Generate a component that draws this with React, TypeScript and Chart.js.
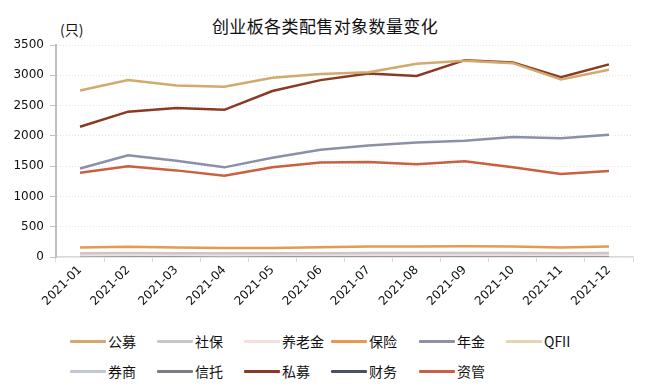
import React, { useEffect, useRef } from "react";
import { Chart, registerables } from "chart.js";

Chart.register(...registerables);

const categories = ["2021-01", "2021-02", "2021-03", "2021-04", "2021-05", "2021-06", "2021-07", "2021-08", "2021-09", "2021-10", "2021-11", "2021-12"];
const yTicks = [0, 500, 1000, 1500, 2000, 2500, 3000, 3500];

const gongmu = [2750, 2920, 2830, 2810, 2960, 3020, 3050, 3190, 3240, 3200, 2930, 3090];
const shebao = [62, 64, 62, 60, 61, 63, 64, 65, 66, 65, 63, 64];
const yanglaojin = [30, 32, 31, 30, 31, 32, 33, 33, 34, 33, 32, 33];
const baoxian = [155, 168, 158, 148, 148, 162, 172, 172, 178, 172, 158, 172];
const nianjin = [1460, 1680, 1590, 1480, 1640, 1770, 1840, 1890, 1920, 1980, 1960, 2020];
const qfii = [42, 44, 43, 42, 43, 45, 46, 46, 47, 46, 45, 46];
const quanshang = [55, 57, 56, 54, 55, 57, 58, 58, 59, 58, 57, 58];
const xintuo = [20, 21, 20, 19, 20, 21, 22, 22, 22, 21, 21, 22];
const simu = [2150, 2400, 2460, 2430, 2740, 2920, 3030, 2990, 3250, 3210, 2970, 3180];
const caiwu = [10, 10, 10, 10, 10, 10, 10, 10, 10, 10, 10, 10];
const ziguan = [1390, 1500, 1430, 1340, 1480, 1560, 1570, 1530, 1580, 1480, 1370, 1420];

const seriesNames = ["公募", "社保", "养老金", "保险", "年金", "QFII", "券商", "信托", "私募", "财务", "资管"];
const seriesData = [gongmu, shebao, yanglaojin, baoxian, nianjin, qfii, quanshang, xintuo, simu, caiwu, ziguan];
const seriesColors = ["#D2A96E", "#C6C8CC", "#F6DEDD", "#E8994E", "#8B90A8", "#E6D3B0", "#C3C7D3", "#7B7D83", "#8A3A23", "#4B5067", "#C9603F"];

const NUMFONT = "'DejaVu Sans', Verdana, sans-serif";
const CJKFONT = "'Noto Sans CJK SC', 'DejaVu Sans', sans-serif";

export default function App() {
  const ref = useRef<HTMLCanvasElement | null>(null);
  useEffect(() => {
    document.body.style.margin = "0";
    const ctx = ref.current!;
    const chart = new Chart(ctx, {
      type: "line",
      data: {
        labels: categories,
        datasets: seriesNames.map((n, i) => ({
          label: n,
          data: seriesData[i],
          borderColor: seriesColors[i],
          backgroundColor: seriesColors[i],
          borderWidth: 2.5,
          pointRadius: 0,
          tension: 0,
          fill: false,
        })),
      },
      options: {
        animation: false,
        responsive: false,
        maintainAspectRatio: false,
        layout: { padding: { top: 45, right: 14, left: 0, bottom: 0 } },
        plugins: {
          legend: { display: false },
          tooltip: { enabled: false },
          title: { display: false },
        },
        scales: {
          x: {
            offset: true,
            afterFit: (s: any) => {
              s.height = 63;
            },
            grid: { drawOnChartArea: false, tickLength: 5, color: "#D9D9D9", offset: true },
            border: { color: "#D9D9D9", width: 1.5 },
            ticks: {
              maxRotation: 45,
              minRotation: 45,
              autoSkip: false,
              color: "#111",
              font: { family: NUMFONT, size: 12 },
              padding: 1,
            },
          },
          y: {
            min: 0,
            max: 3500,
            afterBuildTicks: (s: any) => {
              s.ticks = yTicks.map((v) => ({ value: v }));
            },
            afterFit: (s: any) => {
              s.width = 56;
            },
            grid: { color: "#E3E3E3", tickColor: "#BFBFBF", tickLength: 6, lineWidth: 1 },
            border: { color: "#BFBFBF", width: 2, dash: [1, 2] },
            ticks: {
              color: "#111",
              font: { family: NUMFONT, size: 12 },
              padding: 6,
              callback: (v: any) => String(v),
            },
          },
        },
      },
    });
    return () => chart.destroy();
  }, []);

  const cols = [70, 157, 244, 331, 419, 506];
  return (
    <div style={{ position: "relative", width: 647, height: 388, background: "#fff", fontFamily: CJKFONT }}>
      <div style={{ position: "absolute", left: 0, top: 13, width: 650, textAlign: "center", fontSize: 17, color: "#111", letterSpacing: 0.4 }}>
        创业板各类配售对象数量变化
      </div>
      <div style={{ position: "absolute", left: 60, top: 19, fontSize: 14, color: "#111" }}>(只)</div>
      <canvas ref={ref} width={647} height={320} style={{ position: "absolute", left: 0, top: 0 }} />
      {seriesNames.map((n, i) => {
        const row = Math.floor(i / 6);
        const col = i % 6;
        return (
          <div
            key={n}
            style={{ position: "absolute", left: cols[col], top: 332 + row * 30, height: 18, display: "flex", alignItems: "center", fontSize: 14, color: "#111", whiteSpace: "nowrap" }}
          >
            <span style={{ display: "inline-block", width: 36, height: 3, background: seriesColors[i], marginRight: 2, borderRadius: 1 }} />
            {n}
          </div>
        );
      })}
    </div>
  );
}
